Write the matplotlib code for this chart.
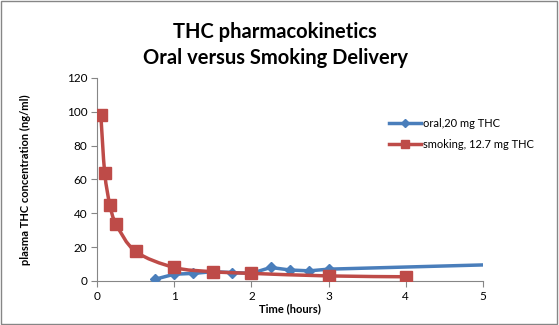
import matplotlib.pyplot as plt
import numpy as np
from matplotlib.path import Path
from matplotlib.patches import PathPatch, Rectangle

# values
oral_t = [0.75, 1.0, 1.25, 1.5, 1.75, 2.0, 2.25, 2.5, 2.75, 3.0, 5.0]
oral_c = [1.0, 4.0, 4.5, 5.5, 5.0, 4.5, 8.0, 6.5, 6.0, 7.0, 9.5]
oral_marked = 10  # last point has no marker

smoke_t = [0.05, 0.1, 0.167, 0.25, 0.5, 1.0, 1.5, 2.0, 3.0, 4.0]
smoke_c = [98.0, 64.0, 45.0, 33.5, 17.5, 8.0, 5.5, 4.5, 3.0, 2.5]

x_ticks = [0, 1, 2, 3, 4, 5]
y_ticks = [0, 20, 40, 60, 80, 100, 120]

BLUE = '#4A7EBB'
RED = '#BE4B48'
plt.rcParams['font.family'] = ['Lato', 'DejaVu Sans']


def smooth_path(xs, ys):
    # Excel-style smoothed line: cubic Bezier through the points
    pts = np.column_stack([xs, ys])
    verts = [pts[0]]
    codes = [Path.MOVETO]
    n = len(pts)
    for i in range(n - 1):
        p0 = pts[i - 1] if i > 0 else pts[i]
        p1 = pts[i]
        p2 = pts[i + 1]
        p3 = pts[i + 2] if i + 2 < n else pts[i + 1]
        verts += [p1 + (p2 - p0) / 6, p2 - (p3 - p1) / 6, p2]
        codes += [Path.CURVE4] * 3
    return Path(verts, codes)


fig = plt.figure(figsize=(5.59, 3.25), dpi=100)
ax = fig.add_axes([0.1735, 0.1354, 0.6905, 0.6246])

ax.plot(oral_t, oral_c, color=BLUE, lw=2.5, marker='D', ms=5,
        markevery=list(range(oral_marked)), zorder=3)
ax.add_patch(PathPatch(smooth_path(smoke_t, smoke_c), fill=False,
                       edgecolor=RED, lw=2.5, zorder=4))
ax.plot(smoke_t, smoke_c, color=RED, lw=0, marker='s', ms=8,
        zorder=5)
# legend handles with smaller markers
ax.plot([], [], color=BLUE, lw=2.5, marker='D', ms=4, label='oral,20 mg THC')
ax.plot([], [], color=RED, lw=2.5, marker='s', ms=5.5,
        label='smoking, 12.7 mg THC')

ax.set_xlim(0, 5)
ax.set_ylim(0, 120)
ax.set_xticks(x_ticks)
ax.set_yticks(y_ticks)
ax.tick_params(labelsize=8.5, length=4, color='#868686', pad=3)
for s in ['top', 'right']:
    ax.spines[s].set_visible(False)
for s in ['left', 'bottom']:
    ax.spines[s].set_color('#868686')

ax.set_xlabel('Time (hours)', fontsize=8, fontweight='bold', labelpad=1)
ax.set_ylabel('plasma THC concentration (ng/ml)', fontsize=8,
              fontweight='bold', labelpad=26)

fig.text(0.492, 0.862, 'THC pharmacokinetics\nOral versus Smoking Delivery',
         ha='center', va='center', fontsize=14.5, fontweight='bold',
         linespacing=1.38)

ax.legend(loc='center left', bbox_to_anchor=(0.73, 0.725),
          frameon=False, fontsize=8, handlelength=2.9,
          labelspacing=0.95, handletextpad=0.15)

fig.patches.append(Rectangle((0.001, 0.002), 0.996, 0.995, transform=fig.transFigure,
                             fill=False, edgecolor='#868686', lw=1))

fig.savefig('out.png', dpi=100)
